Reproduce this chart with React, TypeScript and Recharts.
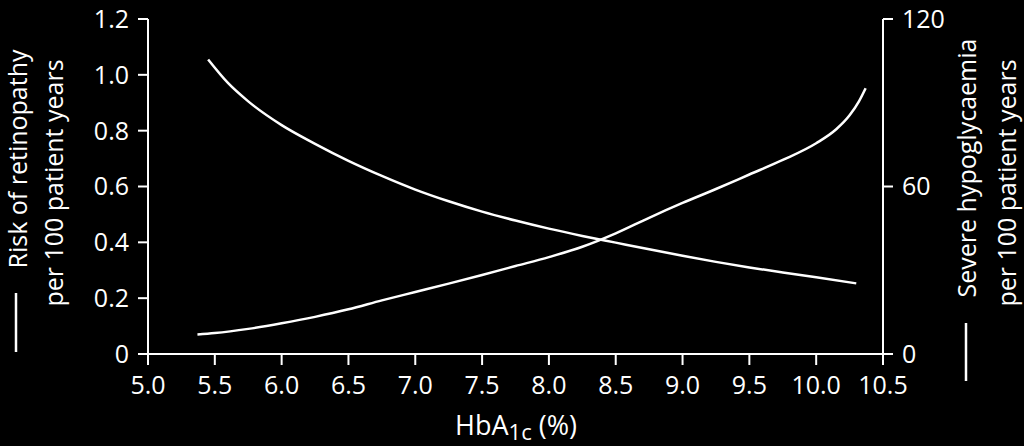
import { ComposedChart, Line, XAxis, YAxis } from "recharts";

// HbA1c (%) positions
const retinopathyX = [5.37, 5.5, 5.75, 6.0, 6.25, 6.5, 6.75, 7.0, 7.25, 7.5, 7.75, 8.0, 8.25, 8.5, 8.75, 9.0, 9.25, 9.5, 9.75, 10.0, 10.15, 10.25, 10.32, 10.37];
// risk of retinopathy per 100 patient years (left axis)
const retinopathyRisk = [0.07, 0.075, 0.09, 0.11, 0.133, 0.16, 0.192, 0.222, 0.252, 0.283, 0.315, 0.347, 0.384, 0.432, 0.488, 0.541, 0.591, 0.643, 0.695, 0.755, 0.805, 0.855, 0.905, 0.952];

// HbA1c (%) positions
const hypoX = [5.45, 5.6, 5.75, 6.0, 6.25, 6.5, 6.75, 7.0, 7.25, 7.5, 7.75, 8.0, 8.25, 8.5, 8.75, 9.0, 9.25, 9.5, 9.75, 10.0, 10.3];
// severe hypoglycaemia per 100 patient years (right axis)
const hypoRate = [105.5, 97, 90.5, 82, 75.3, 69.2, 63.8, 58.9, 54.7, 51, 47.8, 44.9, 42.3, 39.9, 37.5, 35.2, 33, 31, 29.2, 27.5, 25.3];

const xTicks = [5.0, 5.5, 6.0, 6.5, 7.0, 7.5, 8.0, 8.5, 9.0, 9.5, 10.0, 10.5];
const leftTicks = [0, 0.2, 0.4, 0.6, 0.8, 1.0, 1.2];
const rightTicks = [0, 60, 120];

const retinopathyData = retinopathyX.map((x, i) => ({ x, v: retinopathyRisk[i] }));
const hypoData = hypoX.map((x, i) => ({ x, v: hypoRate[i] }));

const FONT = "'Open Sans', 'Noto Sans', sans-serif";
const axisStroke = { stroke: "#fff", strokeWidth: 2 };
const tickStyle = { fill: "#fff", fontSize: 25, fontFamily: FONT };

export default function App() {
  return (
    <div
      style={{
        position: "absolute",
        left: 0,
        top: 0,
        width: 1024,
        height: 446,
        background: "#000",
      }}
    >
      <ComposedChart
        width={1024}
        height={446}
        margin={{ top: 19, right: 0, bottom: 0, left: 0 }}
        style={{ fontFamily: FONT }}
      >
        <XAxis
          type="number"
          dataKey="x"
          domain={[5, 10.5]}
          ticks={xTicks}
          interval={0}
          tickFormatter={(v: number) => v.toFixed(1)}
          height={92}
          tickSize={11}
          tickMargin={11}
          axisLine={axisStroke}
          tickLine={axisStroke}
          tick={tickStyle}
          allowDuplicatedCategory={false}
        />
        <YAxis
          yAxisId="left"
          domain={[0, 1.2]}
          ticks={leftTicks}
          interval={0}
          tickFormatter={(v: number) => (v === 0 ? "0" : v.toFixed(1))}
          width={148}
          tickSize={10}
          tickMargin={9}
          axisLine={axisStroke}
          tickLine={axisStroke}
          tick={tickStyle}
        />
        <YAxis
          yAxisId="right"
          orientation="right"
          domain={[0, 120]}
          ticks={rightTicks}
          interval={0}
          width={141}
          tickSize={10}
          tickMargin={9}
          axisLine={axisStroke}
          tickLine={axisStroke}
          tick={tickStyle}
        />
        <Line
          yAxisId="left"
          data={retinopathyData}
          dataKey="v"
          type="monotone"
          stroke="#fff"
          strokeWidth={2.5}
          dot={false}
          activeDot={false}
          isAnimationActive={false}
        />
        <Line
          yAxisId="right"
          data={hypoData}
          dataKey="v"
          type="monotone"
          stroke="#fff"
          strokeWidth={2.5}
          dot={false}
          activeDot={false}
          isAnimationActive={false}
        />

        {/* left axis title */}
        <line x1={16} y1={293} x2={16} y2={352} stroke="#fff" strokeWidth={2.5} />
        <text
          x={27}
          y={159}
          transform="rotate(-90 27 159)"
          textAnchor="middle"
          fill="#fff"
          fontSize={25}
          fontFamily={FONT}
        >
          Risk of retinopathy
        </text>
        <text
          x={63}
          y={183}
          transform="rotate(-90 63 183)"
          textAnchor="middle"
          fill="#fff"
          fontSize={25}
          fontFamily={FONT}
        >
          per 100 patient years
        </text>

        {/* right axis title */}
        <line x1={966} y1={323} x2={966} y2={381} stroke="#fff" strokeWidth={2.5} />
        <text
          x={976}
          y={168}
          transform="rotate(-90 976 168)"
          textAnchor="middle"
          fill="#fff"
          fontSize={25}
          fontFamily={FONT}
        >
          Severe hypoglycaemia
        </text>
        <text
          x={1016}
          y={183}
          transform="rotate(-90 1016 183)"
          textAnchor="middle"
          fill="#fff"
          fontSize={25}
          fontFamily={FONT}
        >
          per 100 patient years
        </text>

        {/* x axis title */}
        <text x={516} y={435} textAnchor="middle" fill="#fff" fontSize={27} fontFamily={FONT}>
          HbA
          <tspan fontSize={22} dy={5}>1c</tspan>
          <tspan dy={-5}> (%)</tspan>
        </text>
      </ComposedChart>
    </div>
  );
}
